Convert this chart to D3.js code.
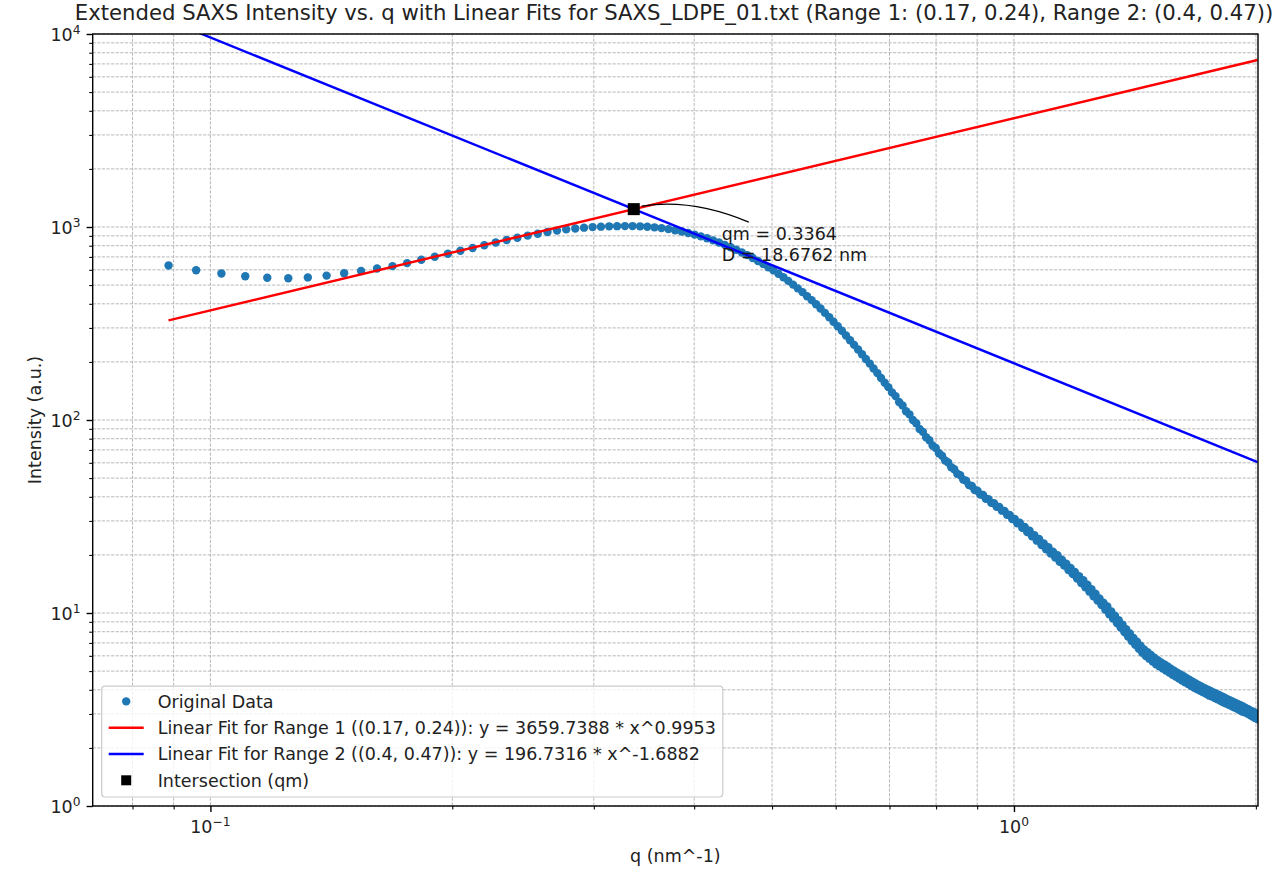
<!DOCTYPE html>
<html>
<head>
<meta charset="utf-8">
<script src="https://cdn.jsdelivr.net/npm/d3@7"></script>
<style>
  body { margin: 0; background: #ffffff; }
  text { font-family: "DejaVu Sans", sans-serif; }
</style>
</head>
<body>
<svg id="chart" width="1281" height="872"></svg>
<script>
// ---- Data -----------------------------------------------------------------
// Scattering vector q (nm^-1), evenly sampled
const qValues = [
  0.0887,0.0960,0.1032,0.1105, 0.1177,0.1250,0.1322,0.1395,
  0.1467,0.1540,0.1612,0.1685, 0.1757,0.1830,0.1902,0.1975,
  0.2047,0.2120,0.2192,0.2265, 0.2337,0.2410,0.2482,0.2555,
  0.2627,0.2700,0.2772,0.2845, 0.2917,0.2990,0.3062,0.3135,
  0.3207,0.3280,0.3352,0.3425, 0.3497,0.3570,0.3642,0.3715,
  0.3787,0.3860,0.3932,0.4005, 0.4077,0.4150,0.4222,0.4295,
  0.4367,0.4440,0.4512,0.4585, 0.4657,0.4730,0.4802,0.4875,
  0.4947,0.5020,0.5092,0.5165, 0.5237,0.5310,0.5382,0.5455,
  0.5527,0.5600,0.5672,0.5745, 0.5817,0.5890,0.5962,0.6035,
  0.6107,0.6180,0.6252,0.6325, 0.6397,0.6470,0.6542,0.6615,
  0.6687,0.6760,0.6832,0.6905, 0.6977,0.7050,0.7122,0.7195,
  0.7267,0.7340,0.7412,0.7485, 0.7557,0.7630,0.7702,0.7775,
  0.7847,0.7920,0.7992,0.8065, 0.8137,0.8210,0.8282,0.8355,
  0.8427,0.8500,0.8572,0.8645, 0.8717,0.8790,0.8862,0.8935,
  0.9007,0.9080,0.9152,0.9225, 0.9297,0.9370,0.9442,0.9515,
  0.9587,0.9660,0.9732,0.9805, 0.9877,0.9950,1.0022,1.0095,
  1.0167,1.0240,1.0312,1.0385, 1.0457,1.0530,1.0602,1.0675,
  1.0747,1.0820,1.0892,1.0965, 1.1037,1.1110,1.1182,1.1255,
  1.1327,1.1400,1.1472,1.1545, 1.1617,1.1690,1.1762,1.1835,
  1.1907,1.1980,1.2052,1.2125, 1.2197,1.2270,1.2342,1.2415,
  1.2487,1.2560,1.2632,1.2705, 1.2777,1.2850,1.2922,1.2995,
  1.3067,1.3140,1.3212,1.3285, 1.3357,1.3430,1.3502,1.3575,
  1.3647,1.3720,1.3792,1.3865, 1.3937,1.4010,1.4082,1.4155,
  1.4227,1.4300,1.4372,1.4445, 1.4517,1.4590,1.4662,1.4735,
  1.4807,1.4880,1.4952,1.5025, 1.5097,1.5170,1.5242,1.5315,
  1.5387,1.5460,1.5532,1.5605, 1.5677,1.5750,1.5822,1.5895,
  1.5967,1.6040,1.6112,1.6185, 1.6257,1.6330,1.6402,1.6475,
  1.6547,1.6620,1.6692,1.6765, 1.6837,1.6910,1.6982,1.7055,
  1.7127,1.7200,1.7272,1.7345, 1.7417,1.7490,1.7562,1.7635,
  1.7707,1.7780,1.7852,1.7925, 1.7997,1.8070,1.8142,1.8215,
  1.8287,1.8360,1.8432,1.8505, 1.8577,1.8650,1.8722,1.8795,
  1.8867,1.8940,1.9012,1.9085, 1.9157,1.9230,1.9302,1.9375,
  1.9447,1.9520,1.9592,1.9665, 1.9737,1.9810,1.9882,1.9955,
  2.0027,2.0100
];

// Measured intensity (a.u.) at each q
const intensity = [
  632,597,574,556, 546,543,548,560,
  576,592,609,627, 650,676,701,727,
  753,779,805,831, 856,880,902,923,
  942,958,972,983, 992,999,1004,1008,
  1010,1011,1011,1008, 1003,996,987,975,
  962,948,931,913, 894,874,853,831,
  808,785,762,738, 715,691,667,643,
  619,596,572,549, 526,503,481,460,
  438,418,398,378, 359,341,323,306,
  290,274,259,245, 232,219,207,196,
  185,175,165,156, 148,139,133,124,
  119,111,107,100, 96.2,89.9,86.8,81.4,
  78.6,73.8,71.6,67.3, 65.3,61.7,60.2,56.9,
  55.6,52.7,51.8,49.1, 48.4,46.0,45.5,43.4,
  43.0,41.1,40.9,39.1, 38.9,37.2,37.1,35.5,
  35.4,33.9,33.8,32.3, 32.2,30.7,30.7,29.2,
  29.4,27.6,27.9,26.3, 26.7,25.0,25.3,23.7,
  24.2,22.5,22.9,21.4, 21.9,20.3,20.8,19.4,
  19.9,18.4,18.9,17.6, 18.0,16.7,17.1,15.9,
  16.3,15.1,15.5,14.3, 14.8,13.6,14.0,12.9,
  13.3,12.2,12.6,11.6, 11.9,11.0,11.3,10.4,
  10.8,9.86,10.2,9.35, 9.68,8.88,9.17,8.41,
  8.71,7.96,8.24,7.55, 7.83,7.16,7.43,6.84,
  7.10,6.52,6.77,6.22, 6.47,5.99,6.26,5.80,
  6.06,5.60,5.86,5.43, 5.70,5.29,5.55,5.16,
  5.42,5.03,5.28,4.91, 5.15,4.79,5.03,4.68,
  4.91,4.57,4.80,4.47, 4.70,4.37,4.59,4.28,
  4.50,4.19,4.41,4.10, 4.32,4.02,4.22,3.95,
  4.15,3.88,4.08,3.81, 4.01,3.74,3.95,3.69,
  3.88,3.63,3.82,3.57, 3.76,3.51,3.70,3.45,
  3.64,3.40,3.58,3.35, 3.52,3.30,3.47,3.25,
  3.42,3.20,3.37,3.14, 3.32,3.09,3.27,3.06,
  3.21,3.01,3.16,2.96, 3.11,2.91,3.07,2.86,
  3.02,2.81
];

// Power-law fits  I = a * q^b
const fitRange1 = [0.17, 0.24];
const fitRange2 = [0.4, 0.47];
const fit1Coef = [3659.7388, 0.9953];
const fit2Coef = [196.7316, -1.6882];

// Intersection of the two fits and the derived spacing
const qm = 0.3364;
const dSpacing = 18.6762;

// Axis ticks
const xMajorTicks = [0.1, 1];
const xMinorTicks = [0.08, 0.09, 0.2, 0.3, 0.4, 0.5, 0.6, 0.7, 0.8, 0.9, 2];
const xTickExponents = [-1, 0];
const yMajorTicks = [1, 10, 100, 1000, 10000];
const yTickExponents = [0, 1, 2, 3, 4];
const yMinorTicks = [1, 10, 100, 1000].flatMap(d => [2,3,4,5,6,7,8,9].map(k => k * d));

const titleText = "Extended SAXS Intensity vs. q with Linear Fits for SAXS_LDPE_01.txt (Range 1: (0.17, 0.24), Range 2: (0.4, 0.47))";
const xLabelText = "q (nm^-1)";
const yLabelText = "Intensity (a.u.)";
const legendLabels = [
  "Original Data",
  "Linear Fit for Range 1 ((0.17, 0.24)): y = 3659.7388 * x^0.9953",
  "Linear Fit for Range 2 ((0.4, 0.47)): y = 196.7316 * x^-1.6882",
  "Intersection (qm)"
];

// ---- Layout ---------------------------------------------------------------
const svg = d3.select("#chart");
const plot = { left: 92.7, right: 1258, top: 34, bottom: 806 };
const FS = 17.5;       // tick / label / legend font size
const TITLE_FS = 21.2;
const DOT_R = 4.2;

const x = d3.scaleLog().domain([0.07137, 2.0123]).range([plot.left, plot.right]);
const y = d3.scaleLog().domain([1, 10000]).range([plot.bottom, plot.top]);

const colors = { data: "#1f77b4", fit1: "#ff0000", fit2: "#0000ff", grid: "#b0b0b0" };

svg.append("rect").attr("width", 1281).attr("height", 872).attr("fill", "#fff");

svg.append("defs").append("clipPath").attr("id", "plot-clip")
  .append("rect")
  .attr("x", plot.left).attr("y", plot.top)
  .attr("width", plot.right - plot.left).attr("height", plot.bottom - plot.top);

// ---- Grid (major + minor, dashed) -----------------------------------------
const grid = svg.append("g").attr("stroke", colors.grid).attr("stroke-width", 0.9)
  .attr("stroke-dasharray", "3.2,1.4");
grid.selectAll("line.gx").data(xMajorTicks.concat(xMinorTicks)).join("line")
  .attr("x1", d => x(d)).attr("x2", d => x(d))
  .attr("y1", plot.top).attr("y2", plot.bottom);
grid.selectAll("line.gy").data(yMajorTicks.concat(yMinorTicks)).join("line")
  .attr("y1", d => y(d)).attr("y2", d => y(d))
  .attr("x1", plot.left).attr("x2", plot.right);

// ---- Marks ----------------------------------------------------------------
const marks = svg.append("g").attr("clip-path", "url(#plot-clip)");
const points = d3.zip(qValues, intensity);

marks.append("g").selectAll("circle").data(points).join("circle")
  .attr("cx", d => x(d[0])).attr("cy", d => y(d[1])).attr("r", DOT_R)
  .attr("fill", colors.data);

const qSpan = d3.extent(qValues);
const fitLine = d3.line().x(d => x(d[0])).y(d => y(d[1]));
function fitPoints(coef) {
  return qSpan.map(qq => [qq, coef[0] * Math.pow(qq, coef[1])]);
}
marks.append("path").attr("d", fitLine(fitPoints(fit1Coef)))
  .attr("fill", "none").attr("stroke", colors.fit1).attr("stroke-width", 2.4);
marks.append("path").attr("d", fitLine(fitPoints(fit2Coef)))
  .attr("fill", "none").attr("stroke", colors.fit2).attr("stroke-width", 2.4);

// Intersection marker
const Im = fit1Coef[0] * Math.pow(qm, fit1Coef[1]);
const px = x(qm), py = y(Im);
marks.append("rect").attr("x", px - 6).attr("y", py - 6).attr("width", 12).attr("height", 12)
  .attr("fill", "#000");

// ---- Annotation -----------------------------------------------------------
const arrow = d3.path();
arrow.moveTo(px + 115, py + 13);
arrow.quadraticCurveTo(px + 58, py - 11, px + 8, py - 3);
svg.append("path").attr("d", arrow.toString())
  .attr("fill", "none").attr("stroke", "#000").attr("stroke-width", 1.2);

const note = svg.append("text").attr("font-size", FS).attr("fill", "#1a1a1a");
note.append("tspan").attr("x", px + 88).attr("y", py + 31).text(`qm = ${qm.toFixed(4)}`);
note.append("tspan").attr("x", px + 88).attr("y", py + 51.5).text(`D = ${dSpacing.toFixed(4)} nm`);

// ---- Axes -----------------------------------------------------------------
function styleAxis(g) {
  g.select(".domain").remove();
  g.selectAll(".tick line").attr("stroke", "#000");
  g.selectAll(".tick text").remove();
}
svg.append("g").attr("transform", `translate(0,${plot.bottom})`)
  .call(d3.axisBottom(x).tickValues(xMajorTicks).tickSize(6.1).tickFormat(() => ""))
  .call(styleAxis).selectAll(".tick line").attr("stroke-width", 1.4);
svg.append("g").attr("transform", `translate(0,${plot.bottom})`)
  .call(d3.axisBottom(x).tickValues(xMinorTicks).tickSize(3.5).tickFormat(() => ""))
  .call(styleAxis).selectAll(".tick line").attr("stroke-width", 1.05);
svg.append("g").attr("transform", `translate(${plot.left},0)`)
  .call(d3.axisLeft(y).tickValues(yMajorTicks).tickSize(6.1).tickFormat(() => ""))
  .call(styleAxis).selectAll(".tick line").attr("stroke-width", 1.4);
svg.append("g").attr("transform", `translate(${plot.left},0)`)
  .call(d3.axisLeft(y).tickValues(yMinorTicks).tickSize(3.5).tickFormat(() => ""))
  .call(styleAxis).selectAll(".tick line").attr("stroke-width", 1.05);

// Spines
svg.append("rect")
  .attr("x", plot.left).attr("y", plot.top)
  .attr("width", plot.right - plot.left).attr("height", plot.bottom - plot.top)
  .attr("fill", "none").attr("stroke", "#000").attr("stroke-width", 1.4);

// Power-of-ten tick labels
function powerLabel(textSel, exp) {
  textSel.append("tspan").text("10");
  textSel.append("tspan").attr("dy", -7).attr("font-size", FS * 0.7)
    .text(exp < 0 ? "\u2212" + (-exp) : String(exp));
}
xMajorTicks.forEach((t, i) => {
  const tx = svg.append("text").attr("x", x(t)).attr("y", 833)
    .attr("text-anchor", "middle").attr("font-size", FS).attr("fill", "#222");
  powerLabel(tx, xTickExponents[i]);
});
yMajorTicks.forEach((t, i) => {
  const tx = svg.append("text").attr("x", plot.left - 12.2).attr("y", y(t) + 6.5)
    .attr("text-anchor", "end").attr("font-size", FS).attr("fill", "#222");
  powerLabel(tx, yTickExponents[i]);
});

// Axis labels and title
svg.append("text").attr("x", (plot.left + plot.right) / 2).attr("y", 862)
  .attr("text-anchor", "middle").attr("font-size", FS).attr("fill", "#222").text(xLabelText);
svg.append("text")
  .attr("transform", `translate(41,${(plot.top + plot.bottom) / 2}) rotate(-90)`)
  .attr("text-anchor", "middle").attr("font-size", FS).attr("fill", "#222").text(yLabelText);
svg.append("text").attr("x", 674).attr("y", 20)
  .attr("text-anchor", "middle").attr("font-size", TITLE_FS).attr("fill", "#222").text(titleText);

// ---- Legend ---------------------------------------------------------------
const legend = svg.append("g").attr("transform", `translate(${plot.left + 9},${plot.bottom - 9})`);
const rowH = 26.3, pad = 7;
const rows = legendLabels.length;
const boxH = rows * rowH + 2 * pad - 8.4;
const legendBox = legend.append("rect")
  .attr("x", 0).attr("y", -boxH).attr("height", boxH).attr("rx", 3.5)
  .attr("fill", "#fff").attr("fill-opacity", 0.8).attr("stroke", "#cccccc").attr("stroke-width", 1.2);

const firstRowY = -boxH + pad + 8.2;
const handleX0 = pad, handleX1 = pad + 35, textX = handleX1 + 14;
let maxW = 0;
legendLabels.forEach((label, i) => {
  const cy = firstRowY + i * rowH;
  if (i === 0) {
    legend.append("circle").attr("cx", (handleX0 + handleX1) / 2).attr("cy", cy).attr("r", DOT_R)
      .attr("fill", colors.data);
  } else if (i === 1 || i === 2) {
    legend.append("line").attr("x1", handleX0).attr("x2", handleX1).attr("y1", cy).attr("y2", cy)
      .attr("stroke", i === 1 ? colors.fit1 : colors.fit2).attr("stroke-width", 2.4);
  } else {
    legend.append("rect").attr("x", (handleX0 + handleX1) / 2 - 5).attr("y", cy - 5)
      .attr("width", 10).attr("height", 10).attr("fill", "#000");
  }
  const t = legend.append("text").attr("x", textX).attr("y", cy + 6.3)
    .attr("font-size", FS).attr("fill", "#222").text(label);
  maxW = Math.max(maxW, t.node().getComputedTextLength());
});
legendBox.attr("width", textX + maxW + pad);
</script>
</body>
</html>
